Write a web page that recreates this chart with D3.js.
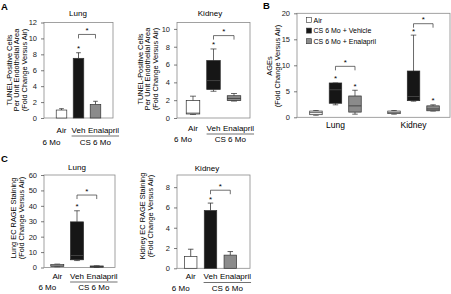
<!DOCTYPE html>
<html>
<head>
<meta charset="utf-8">
<script src="https://cdn.jsdelivr.net/npm/d3@7"></script>
<style>
  body { margin: 0; background: #fff; }
  svg { display: block; font-family: "Liberation Sans", Arial, sans-serif; }
  .axis text { fill: #222; }
  .axis line { stroke: #444; stroke-width: 0.7; }
</style>
</head>
<body>
<div id="chart"></div>
<script>
/* Four-panel figure: TUNEL (A), AGEs (B), EC RAGE staining (C) */

const groups = ["Air", "Veh", "Enalapril"];

// A - lung, bars: mean and upper error
const aLungMean = [1.0, 7.5, 1.7];
const aLungErr = [0.17, 0.7, 0.4];
const aLungTicks = [0, 2, 4, 6, 8, 10, 12];

// A - kidney, box plots: [min, q1, median, q3, max]
const aKidneyBox = [[0.4, 0.45, 0.55, 1.95, 2.45], [3.0, 3.2, 4.2, 6.45, 7.75], [1.9, 1.95, 2.2, 2.5, 2.75]];
const aKidneyTicks = [0, 2, 4, 6, 8, 10];

// B - AGEs box plots per organ
const bOrgans = ["Lung", "Kidney"];
const bSeries = ["Air", "CS 6 Mo + Vehicle", "CS 6 Mo + Enalapril"];
const bLungBox = [[0.4, 0.5, 0.9, 1.2, 1.3], [2.4, 2.7, 5.3, 6.6, 6.6], [0.6, 1.0, 2.2, 4.1, 5.2]];
const bKidneyBox = [[0.6, 0.7, 0.9, 1.2, 1.3], [3.1, 3.2, 4.0, 8.9, 15.8], [1.2, 1.25, 1.6, 2.2, 2.4]];
const bTicks = [0, 5, 10, 15, 20];

// C - lung box plots, kidney bars
const cLungBox = [[0.5, 0.7, 1.2, 2.0, 2.2], [4.5, 5.0, 7.8, 29.6, 36.8], [0.1, 0.2, 0.6, 1.0, 1.1]];
const cLungTicks = [0, 10, 20, 30, 40, 50, 60];
const cKidneyMean = [1.15, 5.7, 1.3];
const cKidneyErr = [0.73, 0.73, 0.35];
const cKidneyTicks = [0, 2, 4, 6, 8];

// significance: star over a group, bracket Veh vs Enalapril at this value
const aLungStars = [0, 1, 0], aLungBracket = 10.5;
const aKidneyStars = [0, 1, 0], aKidneyBracket = 9.25;
const bStars = [0, 1, 1], bBrackets = [9.8, 18];
const cLungStars = [0, 1, 0], cLungBracket = 47;
const cKidneyStars = [0, 1, 0], cKidneyBracket = 7.7;

const width = 451, height = 294;
const fills = ["#ffffff", "#161616", "#8b8b8b"];
const frameColor = "#8a8a8a";

let svg = d3.select("#chart")
    .append("svg")
    .attr("width", width)
    .attr("height", height);

function panel(p) {
    let x = d3.scaleBand()
        .domain(groups)
        .range([p.bx0, p.bx1])
        .paddingInner(p.pi)
        .paddingOuter(p.po);
    let y = d3.scaleLinear()
        .domain([0, p.max])
        .range([p.y0, p.y1]);

    svg.append("rect")
        .attr("x", p.x0).attr("y", p.y1)
        .attr("width", p.x1 - p.x0).attr("height", p.y0 - p.y1)
        .attr("fill", "none")
        .attr("stroke", frameColor)
        .attr("stroke-width", 0.8);

    svg.append("g")
        .attr("class", "axis")
        .attr("transform", `translate(${p.x0},0)`)
        .call(d3.axisLeft(y).tickValues(p.ticks).tickSize(3).tickPadding(4))
        .call(g => g.select(".domain").remove())
        .call(g => g.selectAll("text").style("font-size", "7.5px").attr("font-family", null));

    svg.append("text")
        .attr("x", p.title[1]).attr("y", p.title[2])
        .attr("text-anchor", "middle")
        .style("font-size", "8px")
        .text(p.title[0]);

    yTitle(p.ytitle, p.yx, p.ycy);
    return { x, y };
}

function yTitle(lines, xs, cy) {
    lines.forEach((t, i) => {
        svg.append("text")
            .attr("transform", `translate(${xs[i]},${cy}) rotate(-90)`)
            .attr("text-anchor", "middle")
            .attr("dominant-baseline", "central")
            .style("font-size", "7.4px")
            .text(t);
    });
}

function bars(s, mean, err) {
    let bw = s.x.bandwidth();
    let g = svg.append("g");
    g.selectAll(".err")
        .data(mean)
        .join("g")
        .attr("class", "err")
        .each(function (d, i) {
            let cx = s.x(groups[i]) + bw / 2;
            let e = d3.select(this);
            e.append("line").attr("x1", cx).attr("x2", cx)
                .attr("y1", s.y(d)).attr("y2", s.y(d + err[i]));
            e.append("line").attr("x1", cx - bw * 0.22).attr("x2", cx + bw * 0.22)
                .attr("y1", s.y(d + err[i])).attr("y2", s.y(d + err[i]));
        })
        .attr("stroke", "#333")
        .attr("stroke-width", 0.8);
    g.selectAll("rect")
        .data(mean)
        .join("rect")
        .attr("x", (d, i) => s.x(groups[i]))
        .attr("width", bw)
        .attr("y", d => s.y(d))
        .attr("height", d => s.y(0) - s.y(d))
        .attr("fill", (d, i) => fills[i])
        .attr("stroke", "#333")
        .attr("stroke-width", 0.7);
    return mean.map((d, i) => d + err[i]);
}

function boxes(data, cx, bw, y) {
    let g = svg.append("g");
    let b = g.selectAll(".box")
        .data(data)
        .join("g")
        .attr("class", "box")
        .attr("stroke", "#2a2a2a")
        .attr("stroke-width", 0.7);
    b.each(function (d, i) {
        let c = cx(i), e = d3.select(this);
        let [mn, q1, md, q3, mx] = d;
        e.append("line").attr("x1", c).attr("x2", c).attr("y1", y(q3)).attr("y2", y(mx));
        e.append("line").attr("x1", c).attr("x2", c).attr("y1", y(q1)).attr("y2", y(mn));
        e.append("line").attr("x1", c - bw * 0.22).attr("x2", c + bw * 0.22).attr("y1", y(mx)).attr("y2", y(mx));
        e.append("line").attr("x1", c - bw * 0.22).attr("x2", c + bw * 0.22).attr("y1", y(mn)).attr("y2", y(mn));
        e.append("rect")
            .attr("x", c - bw / 2).attr("width", bw)
            .attr("y", y(q3)).attr("height", Math.max(y(q1) - y(q3), 0.5))
            .attr("fill", fills[i]);
        e.append("line").attr("x1", c - bw / 2).attr("x2", c + bw / 2).attr("y1", y(md)).attr("y2", y(md))
            .attr("stroke", i === 1 ? "#555" : "#2a2a2a");
    });
    return data.map(d => d[4]);
}

function star(x, yPix) {
    svg.append("text")
        .attr("x", x).attr("y", yPix)
        .attr("text-anchor", "middle")
        .style("font-size", "8px")
        .text("*");
}

function marks(cx, tops, y, stars, bracket) {
    tops.forEach((t, i) => { if (stars[i]) star(cx(i), y(t) - 1.5); });
    let by = y(bracket), x1 = cx(1), x2 = cx(2);
    svg.append("path")
        .attr("d", `M${x1},${by + 4}V${by}H${x2}V${by + 4}`)
        .attr("fill", "none")
        .attr("stroke", "#333")
        .attr("stroke-width", 0.7);
    star((x1 + x2) / 2, by - 1.5);
}

function xLabels(s, row1, row2) {
    let bw = s.x.bandwidth();
    let t = svg.append("g").style("font-size", "8px").attr("text-anchor", "middle");
    let labels = t.selectAll("text")
        .data(groups)
        .join("text")
        .attr("x", d => s.x(d) + bw / 2)
        .attr("y", row1)
        .text(d => d);
    // push labels apart where they would overlap
    let prevRight = -Infinity, ends = [];
    labels.each(function () {
        let w = this.getComputedTextLength(), c = +this.getAttribute("x");
        if (c - w / 2 < prevRight + 2.5) { c = prevRight + 2.5 + w / 2; this.setAttribute("x", c); }
        prevRight = c + w / 2;
        ends.push([c - w / 2, c + w / 2]);
    });
    t.append("text").attr("x", s.x("Air") + bw / 2 - 10).attr("y", row2).text("6 Mo");
    svg.append("line")
        .attr("x1", ends[1][0]).attr("x2", ends[2][1])
        .attr("y1", row1 + 3.5).attr("y2", row1 + 3.5)
        .attr("stroke", "#333").attr("stroke-width", 0.7);
    t.append("text").attr("x", (ends[1][0] + ends[2][1]) / 2).attr("y", row2).text("CS 6 Mo");
}

function letter(t, x, y) {
    svg.append("text").attr("x", x).attr("y", y)
        .style("font-size", "9.5px").style("font-weight", "bold").text(t);
}

const tunel = ["TUNEL-Positive Cells", "Per Unit Endothelial Area", "(Fold Change Versus Air)"];

// ---- Panel A, lung
let aL = panel({ x0: 44, x1: 113, bx0: 44, bx1: 113, y0: 118, y1: 22.5, max: 12, pi: 0.38, po: 0.72,
    ticks: aLungTicks, title: ["Lung", 78, 16], ytitle: tunel, yx: [9, 16.5, 24], ycy: 70 });
let aLtops = bars(aL, aLungMean, aLungErr);
marks(i => aL.x(groups[i]) + aL.x.bandwidth() / 2, aLtops, aL.y, aLungStars, aLungBracket);
xLabels(aL, 132.5, 145);

// ---- Panel A, kidney
let aK = panel({ x0: 177, x1: 250, bx0: 177, bx1: 250, y0: 118, y1: 22.5, max: 10.72, pi: 0.34, po: 0.45,
    ticks: aKidneyTicks, title: ["Kidney", 210, 16], ytitle: tunel, yx: [140, 147.5, 155], ycy: 69 });
let aKcx = i => aK.x(groups[i]) + aK.x.bandwidth() / 2;
let aKtops = boxes(aKidneyBox, aKcx, aK.x.bandwidth(), aK.y);
marks(aKcx, aKtops, aK.y, aKidneyStars, aKidneyBracket);
xLabels(aK, 130.5, 141.5);

// ---- Panel C, lung
let cL = panel({ x0: 44, x1: 115, bx0: 41.5, bx1: 112.5, y0: 267.5, y1: 175, max: 60, pi: 0.34, po: 0.47,
    ticks: cLungTicks, title: ["Lung", 77, 169.5], ytitle: ["Lung EC RAGE Staining", "(Fold Change Versus Air)"],
    yx: [13.3, 21.5], ycy: 218 });
let cLcx = i => cL.x(groups[i]) + cL.x.bandwidth() / 2;
let cLtops = boxes(cLungBox, cLcx, cL.x.bandwidth(), cL.y);
marks(cLcx, cLtops, cL.y, cLungStars, cLungBracket);
xLabels(cL, 278.5, 290);

// ---- Panel C, kidney
let cK = panel({ x0: 177, x1: 250, bx0: 174, bx1: 247, y0: 268.3, y1: 175, max: 9.2, pi: 0.37, po: 0.53,
    ticks: cKidneyTicks, title: ["Kidney", 207, 170.5], ytitle: ["Kidney EC RAGE Staining", "(Fold Change Versus Air)"],
    yx: [142.5, 150.3], ycy: 216 });
let cKtops = bars(cK, cKidneyMean, cKidneyErr);
marks(i => cK.x(groups[i]) + cK.x.bandwidth() / 2, cKtops, cK.y, cKidneyStars, cKidneyBracket);
xLabels(cK, 279, 290.5);

// ---- Panel B, AGEs
const bx0 = 297, bx1 = 450, by0 = 117.3, by1 = 13.3;
let bOuter = d3.scaleBand().domain(bOrgans).range([298, 451]).paddingInner(0.25).paddingOuter(0.105);
let bInner = d3.scaleBand().domain([0, 1, 2]).range([0, bOuter.bandwidth()]).paddingInner(0.36).paddingOuter(0.18);
let bY = d3.scaleLinear().domain([0, 20]).range([by0, by1]);

svg.append("rect")
    .attr("x", bx0).attr("y", by1)
    .attr("width", bx1 - bx0).attr("height", by0 - by1)
    .attr("fill", "none").attr("stroke", frameColor).attr("stroke-width", 0.8);
svg.append("g")
    .attr("class", "axis")
    .attr("transform", `translate(${bx0},0)`)
    .call(d3.axisLeft(bY).tickValues(bTicks).tickSize(3).tickPadding(4))
    .call(g => g.select(".domain").remove())
    .call(g => g.selectAll("text").style("font-size", "7.5px").attr("font-family", null));
yTitle(["AGEs", "(Fold Change Versus Air)"], [269.5, 277], 66);

[bLungBox, bKidneyBox].forEach((data, k) => {
    let organ = bOrgans[k];
    let cx = i => bOuter(organ) + bInner(i) + bInner.bandwidth() / 2;
    let tops = boxes(data, cx, bInner.bandwidth(), bY);
    marks(cx, tops, bY, bStars, bBrackets[k]);
    svg.append("text")
        .attr("x", bOuter(organ) + bOuter.bandwidth() / 2)
        .attr("y", 127.5)
        .attr("text-anchor", "middle")
        .style("font-size", "8.5px")
        .text(organ);
});

let legend = svg.append("g")
    .selectAll("g")
    .data(bSeries)
    .join("g")
    .attr("transform", (d, i) => `translate(306.5,${20 + i * 10.6})`);
legend.append("rect")
    .attr("x", 0).attr("y", -2.5).attr("width", 5).attr("height", 5)
    .attr("fill", (d, i) => fills[i])
    .attr("stroke", "#333").attr("stroke-width", 0.6);
legend.append("text")
    .attr("x", 7).attr("y", 0)
    .attr("dominant-baseline", "central")
    .style("font-size", "7px")
    .text(d => d);

letter("A", 1, 9.5);
letter("B", 263, 8.5);
letter("C", 1, 162);
</script>
</body>
</html>
